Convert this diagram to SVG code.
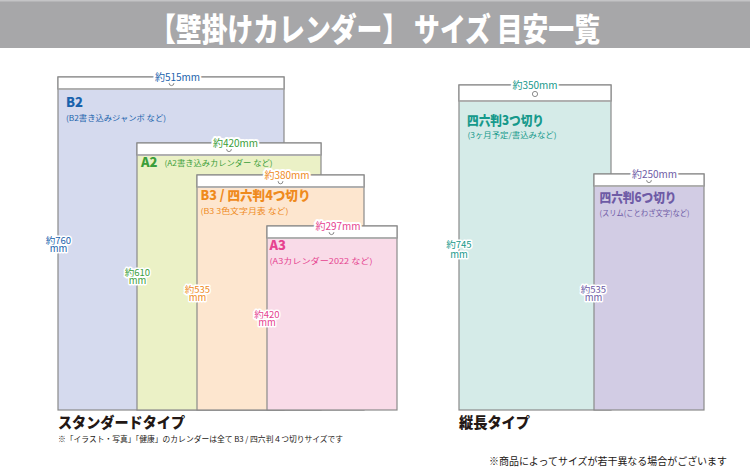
<svg xmlns="http://www.w3.org/2000/svg" width="750" height="474" viewBox="0 0 750 474">
<defs>
<style>
text{font-family:"Noto Sans CJK JP","Noto Sans",sans-serif;}
.frame{stroke:#8a8a8a;stroke-width:1.2;}
.hdr{fill:#ffffff;stroke:#8a8a8a;stroke-width:1.2;}
.div{stroke:#b0b0b0;stroke-width:2;}
.hole{fill:#ffffff;stroke:#707070;stroke-width:0.8;}
.wl{font-size:10px;text-anchor:middle;stroke:#ffffff;stroke-width:4;paint-order:stroke;stroke-linejoin:round;}
.hl{font-size:9.5px;text-anchor:middle;stroke:#ffffff;stroke-width:3;paint-order:stroke;stroke-linejoin:round;}
.ttl{font-weight:900;font-size:13px;}
.sub{font-size:7.5px;}
.blue{fill:#1a62ac;}
.green{fill:#3b9e3a;}
.orange{fill:#ef8a1c;}
.pink{fill:#e64390;}
.teal{fill:#16998b;}
.purple{fill:#6e5ba6;}
</style>
</defs>
<rect x="0" y="0" width="750" height="48" fill="#a7a7a9"/>
<rect x="0" y="0" width="750" height="1.5" fill="#c4c4c6"/>
<text x="375" y="41" text-anchor="middle" fill="#ffffff" font-weight="900" font-size="32" textLength="450" lengthAdjust="spacingAndGlyphs">【壁掛けカレンダー】 サイズ 目安一覧</text>

<g id="b2">
<rect x="58" y="77" width="226" height="333" fill="#d5daee" class="frame"/>
<rect x="58" y="77" width="226" height="12" class="hdr"/>
<line x1="58.6" y1="89" x2="283.4" y2="89" class="div"/>
<circle cx="171.5" cy="83.3" r="2.3" class="hole"/>
<text x="177.5" y="80.5" class="wl blue">約515mm</text>
<text x="66" y="106.7" class="ttl blue">B2</text>
<text x="66" y="121" class="sub blue" textLength="100" lengthAdjust="spacingAndGlyphs">(B2書き込みジャンボ など)</text>
<text class="hl blue"><tspan x="58.5" y="243.5">約760</tspan><tspan x="58.5" y="252">mm</tspan></text>
</g>

<g id="a2">
<rect x="137" y="143" width="184" height="267" fill="#ebf1c6" class="frame"/>
<rect x="137" y="143" width="184" height="12" class="hdr"/>
<line x1="137.6" y1="155" x2="320.4" y2="155" class="div"/>
<circle cx="229" cy="149.3" r="2.3" class="hole"/>
<text x="235.5" y="146.5" class="wl green">約420mm</text>
<text x="141" y="166.6" class="ttl green">A2</text>
<text x="164.5" y="165.5" class="sub green" textLength="108" lengthAdjust="spacingAndGlyphs">(A2書き込みカレンダー など)</text>
<text class="hl green"><tspan x="137.5" y="275.5">約610</tspan><tspan x="137.5" y="284">mm</tspan></text>
</g>

<g id="b3">
<rect x="197" y="175" width="167" height="235" fill="#fde6cf" class="frame"/>
<rect x="197" y="175" width="167" height="12" class="hdr"/>
<line x1="197.6" y1="187" x2="363.4" y2="187" class="div"/>
<circle cx="280.5" cy="181.5" r="2.3" class="hole"/>
<text x="287" y="178.5" class="wl orange">約380mm</text>
<text x="200.5" y="200" class="ttl orange" textLength="110" lengthAdjust="spacingAndGlyphs">B3 / 四六判4つ切り</text>
<text x="200.5" y="213.5" class="sub orange" textLength="88" lengthAdjust="spacingAndGlyphs">(B3 3色文字月表 など)</text>
<text class="hl orange"><tspan x="197.5" y="292.5">約535</tspan><tspan x="197.5" y="301">mm</tspan></text>
</g>

<g id="a3">
<rect x="267" y="226" width="130" height="184" fill="#f9dbe8" class="frame"/>
<rect x="267" y="226" width="130" height="12" class="hdr"/>
<line x1="267.6" y1="238" x2="396.4" y2="238" class="div"/>
<circle cx="331.5" cy="232.3" r="2.3" class="hole"/>
<text x="338" y="229.5" class="wl pink">約297mm</text>
<text x="269.5" y="250" class="ttl pink">A3</text>
<text x="269.5" y="263.5" class="sub pink" textLength="103" lengthAdjust="spacingAndGlyphs">(A3カレンダー2022 など)</text>
<text class="hl pink"><tspan x="267" y="317.5">約420</tspan><tspan x="267" y="326">mm</tspan></text>
</g>

<g id="yotsu3">
<rect x="459" y="85" width="152" height="325" fill="#d5ebe8" class="frame"/>
<rect x="459" y="85" width="152" height="16" class="hdr"/>
<line x1="459.6" y1="101" x2="610.4" y2="101" class="div"/>
<circle cx="535" cy="94" r="2.6" class="hole"/>
<text x="535" y="88.5" class="wl teal">約350mm</text>
<text x="467" y="125" class="ttl teal" textLength="77" lengthAdjust="spacingAndGlyphs">四六判3つ切り</text>
<text x="467.5" y="138" class="sub teal" textLength="89" lengthAdjust="spacingAndGlyphs">(3ヶ月予定/書込みなど)</text>
<text class="hl teal"><tspan x="459" y="247.5">約745</tspan><tspan x="459" y="257.5">mm</tspan></text>
</g>

<g id="yotsu6">
<rect x="594" y="174" width="110" height="236" fill="#d2cce4" class="frame"/>
<rect x="594" y="174" width="110" height="12" class="hdr"/>
<line x1="594.6" y1="186" x2="703.4" y2="186" class="div"/>
<circle cx="649" cy="180.3" r="2.3" class="hole"/>
<text x="654.5" y="177.5" class="wl purple">約250mm</text>
<text x="599.5" y="202" class="ttl purple" textLength="77" lengthAdjust="spacingAndGlyphs">四六判6つ切り</text>
<text x="599.5" y="215.5" class="sub purple" textLength="90" lengthAdjust="spacingAndGlyphs">(スリム(ことわざ文字)など)</text>
<text class="hl purple"><tspan x="593.5" y="292.5">約535</tspan><tspan x="593.5" y="301">mm</tspan></text>
</g>

<g id="labels">
<text x="58" y="428" fill="#231815" font-weight="900" font-size="15" textLength="127" lengthAdjust="spacingAndGlyphs">スタンダードタイプ</text>
<text x="58" y="441.5" fill="#231815" font-size="8" textLength="285" lengthAdjust="spacingAndGlyphs">※「イラスト・写真」「健康」のカレンダーは全て B3 / 四六判４つ切りサイズです</text>
<text x="459" y="428" fill="#231815" font-weight="900" font-size="15" textLength="71" lengthAdjust="spacingAndGlyphs">縦長タイプ</text>
<text x="727" y="465" text-anchor="end" fill="#231815" font-size="10" textLength="238" lengthAdjust="spacingAndGlyphs">※商品によってサイズが若干異なる場合がございます</text>
</g>
</svg>
